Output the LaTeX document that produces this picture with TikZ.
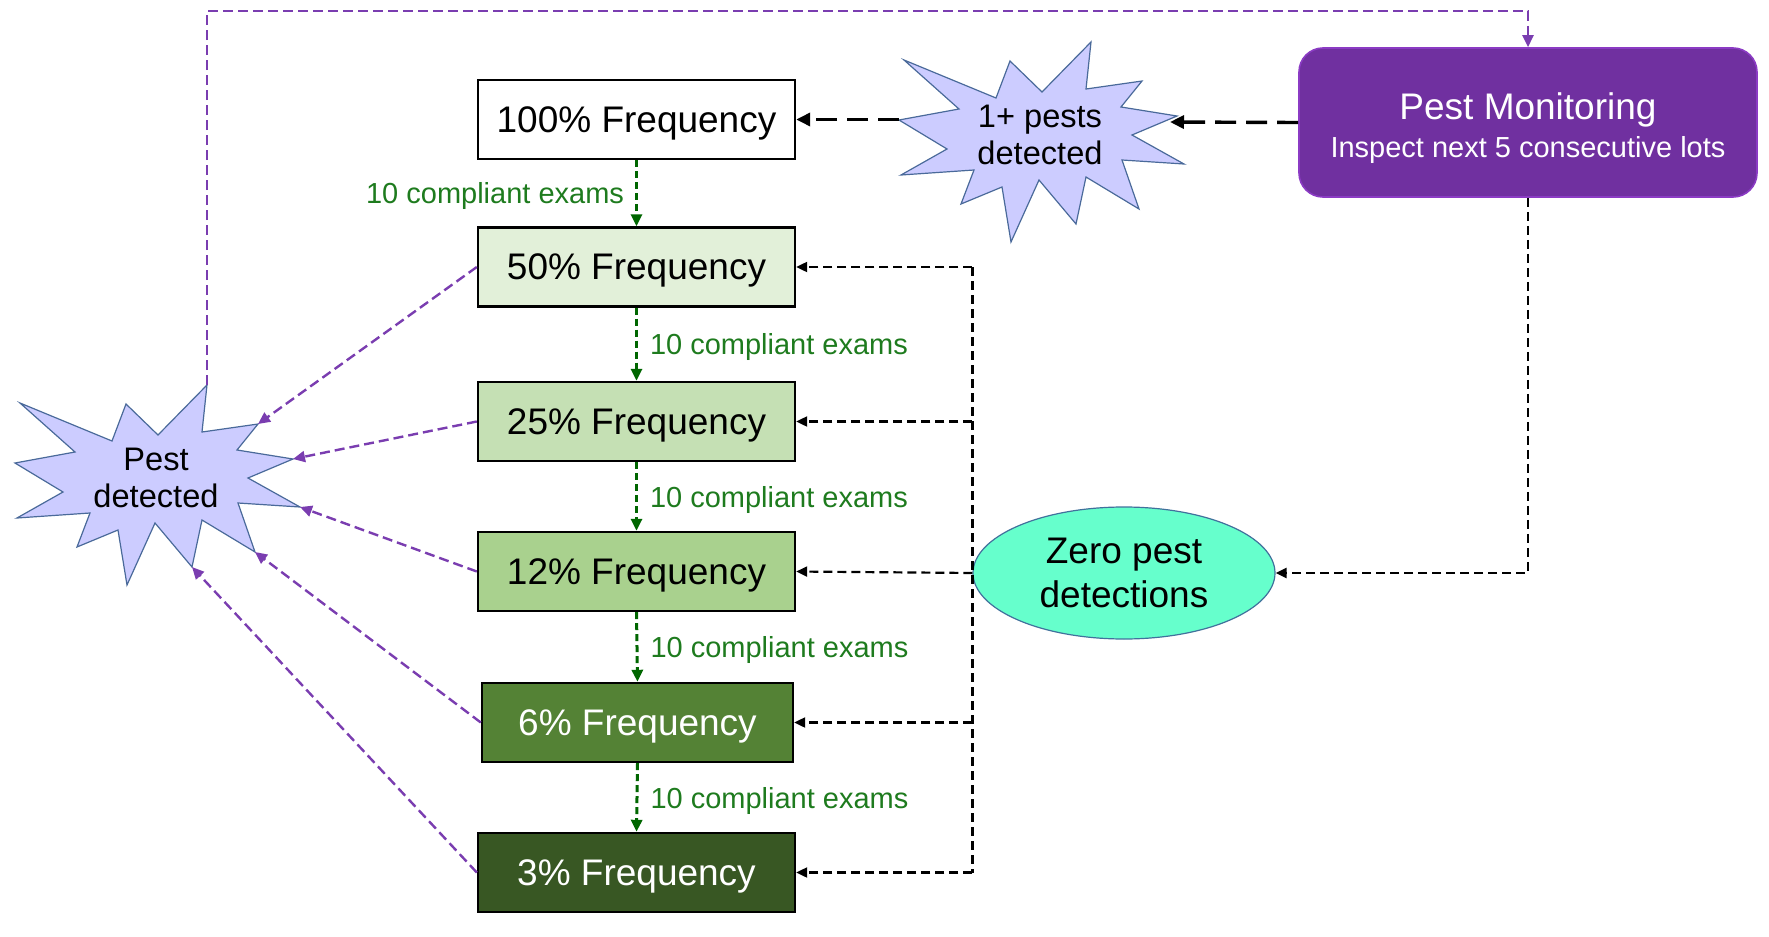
\documentclass[tikz,border=0pt]{standalone}
\usepackage{fontspec}
\setmainfont{Liberation Sans}
\usetikzlibrary{arrows.meta,shapes.geometric}

\definecolor{fr50}{HTML}{E2F0D9}
\definecolor{fr25}{HTML}{C5E0B4}
\definecolor{fr12}{HTML}{A9D18E}
\definecolor{fr6}{HTML}{548235}
\definecolor{fr3}{HTML}{385723}
\definecolor{pmfill}{HTML}{7030A0}
\definecolor{pmline}{HTML}{8B3BC4}
\definecolor{purpdash}{HTML}{7A3DB0}
\definecolor{burstfill}{HTML}{CCCCFF}
\definecolor{burstline}{HTML}{4A6A9A}
\definecolor{zerofill}{HTML}{66FFCC}
\definecolor{zeroline}{HTML}{41719C}
\definecolor{stepgreen}{HTML}{006600}
\definecolor{labelgreen}{HTML}{1E7B1E}

\tikzset{
  freqbox/.style={draw=black, line width=1.2pt, minimum width=158.5pt,
    minimum height=39.5pt, inner sep=0pt, text depth=0pt,
    font=\fontsize{18.5}{22}\selectfont},
  burst/.style={draw=burstline, fill=burstfill, line width=0.6pt, line join=miter},
  bursttext/.style={align=center, inner sep=0pt,
    font=\fontsize{16.3}{18.5}\selectfont},
  stepline/.style={draw=stepgreen, line width=1.5pt, dash pattern=on 3.5pt off 2pt,
    -{Triangle[length=6pt,width=5.5pt]}},
  steplabel/.style={text=labelgreen, inner sep=0pt, text depth=0pt,
    font=\fontsize{14.5}{17}\selectfont},
  backline/.style={draw=purpdash, line width=1.2pt, dash pattern=on 5pt off 2.5pt,
    -{Triangle[length=6pt,width=5.5pt]}},
  zeroline/.style={draw=black, line width=1.1pt, dash pattern=on 4.5pt off 2.5pt,
    -{Triangle[length=5.5pt,width=5pt]}},
  zerobus/.style={draw=black, line width=1.1pt, dash pattern=on 4.5pt off 2.5pt},
  hitline/.style={draw=black, line width=1.7pt, dash pattern=on 10.5pt off 5pt,
    -{Triangle[length=7pt,width=6.5pt]}},
}

% explosion outline with its tips as named coordinates
\newcommand\explosion[3]{%
  \begin{scope}[shift={#2}]
    \draw[burst] (191,0) -- (186,47) -- (242,39) -- (221,65) -- (277,74)
      -- (232,93) -- (284,122) -- (222,118) -- (239,167) -- (186,135)
      -- (176,182) -- (139,138) -- (111,200) -- (102,145) -- (61,162)
      -- (74,128) -- (1,133) -- (47,107) -- (-1,78) -- (59,67) -- (4,18)
      -- (96,56) -- (110,19) -- (142,50) -- cycle;
    \coordinate (#1-t1) at (191,0);
    \coordinate (#1-t2) at (242,39);
    \coordinate (#1-t3) at (277,74);
    \coordinate (#1-t4) at (284,122);
    \coordinate (#1-t5) at (239,167);
    \coordinate (#1-t6) at (176,182);
    \coordinate (#1-t10) at (-1,78);
    \coordinate (#1-r) at (270,80);
    \node[bursttext] (#1) at (140,93) {#3};
  \end{scope}}

\begin{document}
\begin{tikzpicture}[x=0.5pt, y=-0.5pt]
\useasboundingbox (0,0) rectangle (1769,937);

% frequency ladder
\node[freqbox, fill=white] (b100) at (636.5,119.5) {100\% Frequency};
\node[freqbox, fill=fr50]  (b50)  at (636.5,267)   {50\% Frequency};
\node[freqbox, fill=fr25]  (b25)  at (636.5,421.5) {25\% Frequency};
\node[freqbox, fill=fr12]  (b12)  at (636.5,571.5) {12\% Frequency};
\node[freqbox, fill=fr6, text=white, minimum width=155.5pt] (b6) at (637.5,722.5) {6\% Frequency};
\node[freqbox, fill=fr3, text=white]  (b3)  at (636.5,872.5) {3\% Frequency};

% step-down arrows
\draw[stepline] (b100.south) -- node[steplabel, midway, left=5.5pt] {10 compliant exams} (b50.north);
\draw[stepline] (b50.south)  -- node[steplabel, midway, right=6pt] {10 compliant exams} (b25.north);
\draw[stepline] (b25.south)  -- node[steplabel, midway, right=6pt] {10 compliant exams} (b12.north);
\draw[stepline] (b12.south)  -- node[steplabel, midway, right=6pt] {10 compliant exams} (b6.north);
\draw[stepline] (b6.south)   -- node[steplabel, midway, right=6pt] {10 compliant exams} (b3.north);

% pest monitoring box
\node[draw=pmline, fill=pmfill, line width=0.8pt, rounded corners=12pt,
      minimum width=229pt, minimum height=74.5pt, inner sep=0pt, align=center,
      text=white, font=\fontsize{18.5}{19}\selectfont] (pm) at (1528,122.5)
  {\rule{0pt}{19pt}Pest Monitoring\\[0.3pt]{\fontsize{14.5}{17}\selectfont Inspect next 5 consecutive lots}};

% explosions
\explosion{pd}{(16,385)}{Pest\\detected}
\explosion{pp}{(900,42)}{1+ pests\\detected}

% zero-detection ellipse
\node[ellipse, draw=zeroline, fill=zerofill, line width=0.6pt,
      minimum width=151pt, minimum height=66pt, inner sep=0pt, align=center,
      font=\fontsize{18.5}{22}\selectfont] (zero) at (1124,573)
  {Zero pest\\detections};

% detections during monitoring
\draw[hitline] (pm.west) -- (pp-r);
\draw[hitline] (pp-t10 |- b100.east) -- (b100.east);

% zero detections: return to each level
\draw[zeroline] (pm.south) |- (zero.east);
\draw[zerobus] (zero.west |- b50.east) -- (zero.west |- b3.east);
\draw[zeroline] (zero.west |- b50.east) -- (b50.east);
\draw[zeroline] (zero.west |- b25.east) -- (b25.east);
\draw[zeroline] (zero.west) -- (b12.east);
\draw[zeroline] (zero.west |- b6.east) -- (b6.east);
\draw[zeroline] (zero.west |- b3.east) -- (b3.east);

% pest detected at any reduced level
\draw[backline] (b50.west) -- (pd-t2);
\draw[backline] (b25.west) -- (pd-t3);
\draw[backline] (b12.west) -- (pd-t4);
\draw[backline] (b6.west)  -- (pd-t5);
\draw[backline] (b3.west)  -- (pd-t6);

% pest detected leads to monitoring
\coordinate (topleft) at (207,11);
\draw[backline] (pd-t1) -- (topleft) -| (pm.north);
\end{tikzpicture}
\end{document}
